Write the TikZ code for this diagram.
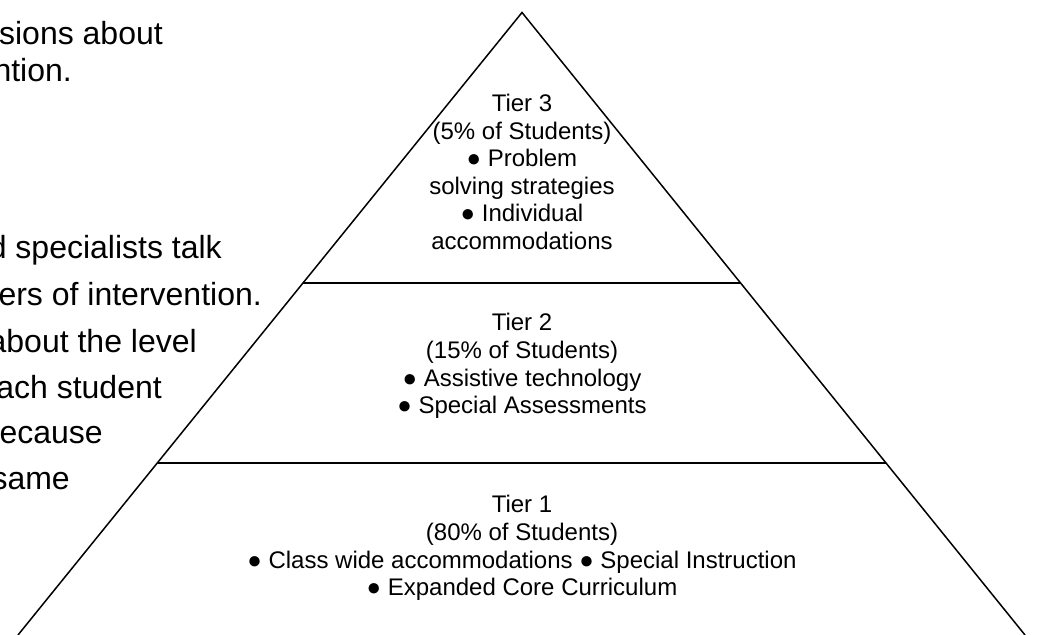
\documentclass[tikz,border=0pt]{standalone}
\usepackage{fontspec}
\setmainfont{Liberation Sans}
\usetikzlibrary{calc}
\begin{document}
\begin{tikzpicture}[x=1pt,y=-1pt,
  side/.style={line width=1.5pt},
  tierline/.style={line width=2pt},
  tiertext/.style={align=center,font=\fontsize{24}{27.6}\selectfont,inner sep=0pt},
  sidetext/.style={anchor=base east,font=\fontsize{32}{38}\selectfont,inner sep=0pt}]
\useasboundingbox (0,0) rectangle (1037,635);
\clip (0,0) rectangle (1037,635);
\coordinate (apex) at (522,12.5);
\coordinate (bl) at (18,635);
\coordinate (br) at (1025,635);
\coordinate (a3l) at ($(apex)!0.434!(bl)$);
\coordinate (a3r) at ($(apex)!0.434!(br)$);
\coordinate (a2l) at ($(apex)!0.7232!(bl)$);
\coordinate (a2r) at ($(apex)!0.7232!(br)$);
\draw[side] (bl) -- (apex) -- (br);
\draw[tierline] (a3l) -- (a3r);
\draw[tierline] (a2l) -- (a2r);
\node[tiertext] (t3) at (522,172) {Tier 3\\(5\% of Students)\\● Problem\\solving strategies\\● Individual\\accommodations};
\node[tiertext] (t2) at (522,366) {Tier 2\\(15\% of Students)\\● Assistive technology\\● Special Assessments};
\node[tiertext] (t1) at (522,548) {Tier 1\\(80\% of Students)\\● Class wide accommodations ● Special Instruction\\● Expanded Core Curriculum};
\node[sidetext] (l1) at (163,44) {sions about};
\node[sidetext] (l2) at (72,81) {ntion.};
\node[sidetext] (l3) at (222,258) {d specialists talk};
\node[sidetext] (l4) at (262,305) {ers of intervention.};
\node[sidetext] (l5) at (197,352) {about the level};
\node[sidetext] (l6) at (162,398) {ach student};
\node[sidetext] (l7) at (103,443) {because};
\node[sidetext] (l8) at (70,489) {same};
\end{tikzpicture}
\end{document}
